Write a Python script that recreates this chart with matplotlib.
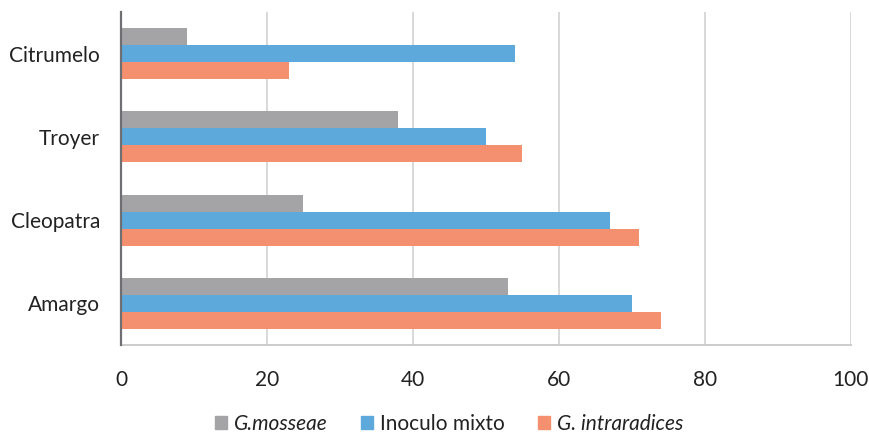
import numpy as np
import matplotlib.pyplot as plt
from matplotlib.patches import Patch

# rootstocks, bottom to top
rootstocks = ["Amargo", "Cleopatra", "Troyer", "Citrumelo"]

# colonisation per inoculum
g_mosseae = [53, 25, 38, 9]
inoculo_mixto = [70, 67, 50, 54]
g_intraradices = [74, 71, 55, 23]

series_names = ["G.mosseae", "Inoculo mixto", "G. intraradices"]
xticks = [0, 20, 40, 60, 80, 100]

c_gray = "#a4a4a7"
c_blue = "#5ea9dc"
c_salmon = "#f4906f"

plt.rcParams['font.family'] = ['Lato', 'DejaVu Sans']

fig = plt.figure(figsize=(8.69, 4.37), dpi=100)
ax = fig.add_axes([0.1392, 0.2105, 0.840, 0.762])

y = np.arange(len(rootstocks))
h = 0.205
ax.barh(y + h, g_mosseae, height=h, color=c_gray, zorder=3)
ax.barh(y, inoculo_mixto, height=h, color=c_blue, zorder=3)
ax.barh(y - h, g_intraradices, height=h, color=c_salmon, zorder=3)

ax.set_xlim(0, 100)
ax.set_ylim(-0.5, 3.5)
ax.set_xticks(xticks)
ax.set_xticklabels([str(t) for t in xticks])
ax.set_yticks(y)
ax.set_yticklabels(rootstocks)
ax.tick_params(axis='x', length=0, pad=18, labelsize=15, colors="#222222")
ax.tick_params(axis='y', length=0, pad=15, labelsize=15, colors="#222222")

ax.grid(axis='x', color="#d6d6d6", linewidth=1.3, zorder=0)
for s in ["top", "right"]:
    ax.spines[s].set_visible(False)
ax.spines["left"].set_color("#6e6e73")
ax.spines["left"].set_linewidth(1.6)
ax.spines["left"].set_zorder(4)
ax.spines["bottom"].set_color("#c8c8c8")
ax.spines["bottom"].set_linewidth(1.3)

handles = [Patch(color=c_gray), Patch(color=c_blue), Patch(color=c_salmon)]
leg = fig.legend(handles, series_names, loc="center", bbox_to_anchor=(0.517, 0.03),
                 ncol=3, frameon=False, fontsize=15, handlelength=0.55,
                 handleheight=0.55, handletextpad=0.35, columnspacing=1.6)
for txt in leg.get_texts():
    if txt.get_text().startswith("G."):
        txt.set_style("italic")
    txt.set_color("#222222")

fig.savefig("out.png", dpi=100, facecolor="white")
